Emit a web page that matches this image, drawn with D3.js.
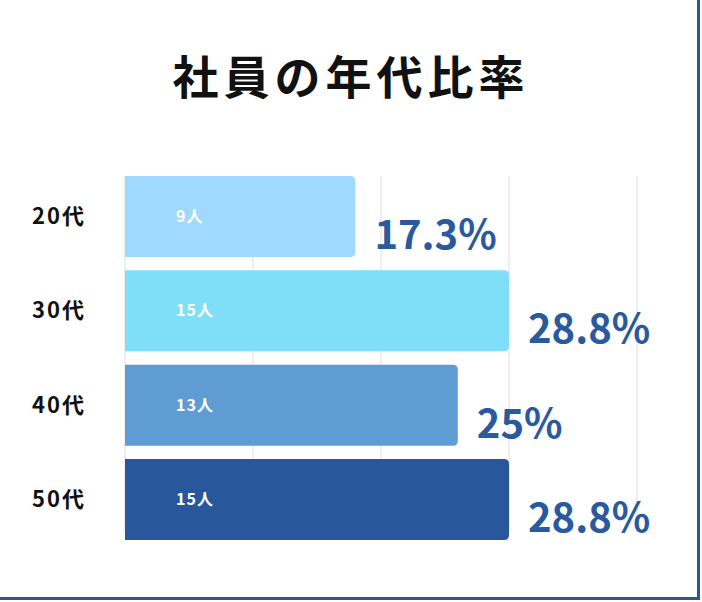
<!DOCTYPE html>
<html><head><meta charset="utf-8">
<script src="https://cdn.jsdelivr.net/npm/d3@7"></script>
<style>body{margin:0;background:#fff}svg{display:block}</style>
</head><body><div id="chart"></div>
<script>
const categories = ['20代', '30代', '40代', '50代'];
const counts = [9, 15, 13, 15];
const percents = ['17.3%', '28.8%', '25%', '28.8%'];
const colors = ['#9fd9fe', '#7fdff9', '#5f9cd4', '#28579c'];
const gridTicks = [0, 5, 10, 15, 20];

const width = 702, height = 602;
const font = "'Noto Sans CJK JP', 'Noto Sans', sans-serif";
const svg = d3.select('#chart').append('svg')
  .attr('width', width).attr('height', height);

// frame on right and bottom
svg.append('path')
  .attr('d', `M0,${height - 3.5} H${width - 3.5} V0`)
  .attr('fill', 'none').attr('stroke', '#2a579a').attr('stroke-width', 3);

svg.append('text')
  .attr('x', 351).attr('y', 94).attr('text-anchor', 'middle')
  .style('font-family', font).style('font-weight', 700).style('font-size', '46px')
  .style('letter-spacing', '5px').attr('fill', '#111')
  .text('社員の年代比率');

const x = d3.scaleLinear().domain([0, 20]).range([125, 637]);
const y = d3.scaleBand().domain(categories).range([176, 543]).paddingInner(0.11).paddingOuter(0);

svg.append('g').selectAll('line').data(gridTicks).join('line')
  .attr('x1', d => x(d)).attr('x2', d => x(d))
  .attr('y1', 176).attr('y2', 533)
  .attr('stroke', '#ddd').attr('stroke-width', 1);

const r = 5;
const barPath = (i) => {
  const x0 = x(0), x1 = x(counts[i]), y0 = y(categories[i]), h = 81;
  return `M${x0},${y0} H${x1 - r} Q${x1},${y0} ${x1},${y0 + r} V${y0 + h - r} Q${x1},${y0 + h} ${x1 - r},${y0 + h} H${x0} Z`;
};

svg.append('g').selectAll('path').data(categories).join('path')
  .attr('d', (d, i) => barPath(i))
  .attr('fill', (d, i) => colors[i]);

svg.append('g').selectAll('text').data(categories).join('text')
  .attr('x', 176).attr('y', d => y(d) + 46)
  .style('font-family', font).style('font-weight', 700).style('font-size', '16px')
  .style('letter-spacing', '1px').attr('fill', '#fff')
  .text((d, i) => counts[i] + '人');

svg.append('g').selectAll('text').data(categories).join('text')
  .attr('x', 32).attr('y', d => y(d) + 48)
  .style('font-family', font).style('font-weight', 700).style('font-size', '22px')
  .style('letter-spacing', '2px').attr('fill', '#111')
  .text(d => d);

svg.append('g').selectAll('text').data(categories).join('text')
  .attr('x', (d, i) => x(counts[i]) + 19).attr('y', d => y(d) + 73)
  .style('font-family', font).style('font-weight', 700).style('font-size', '40px')
  .attr('fill', '#2a5a9e')
  .text((d, i) => percents[i]);
</script></body></html>
